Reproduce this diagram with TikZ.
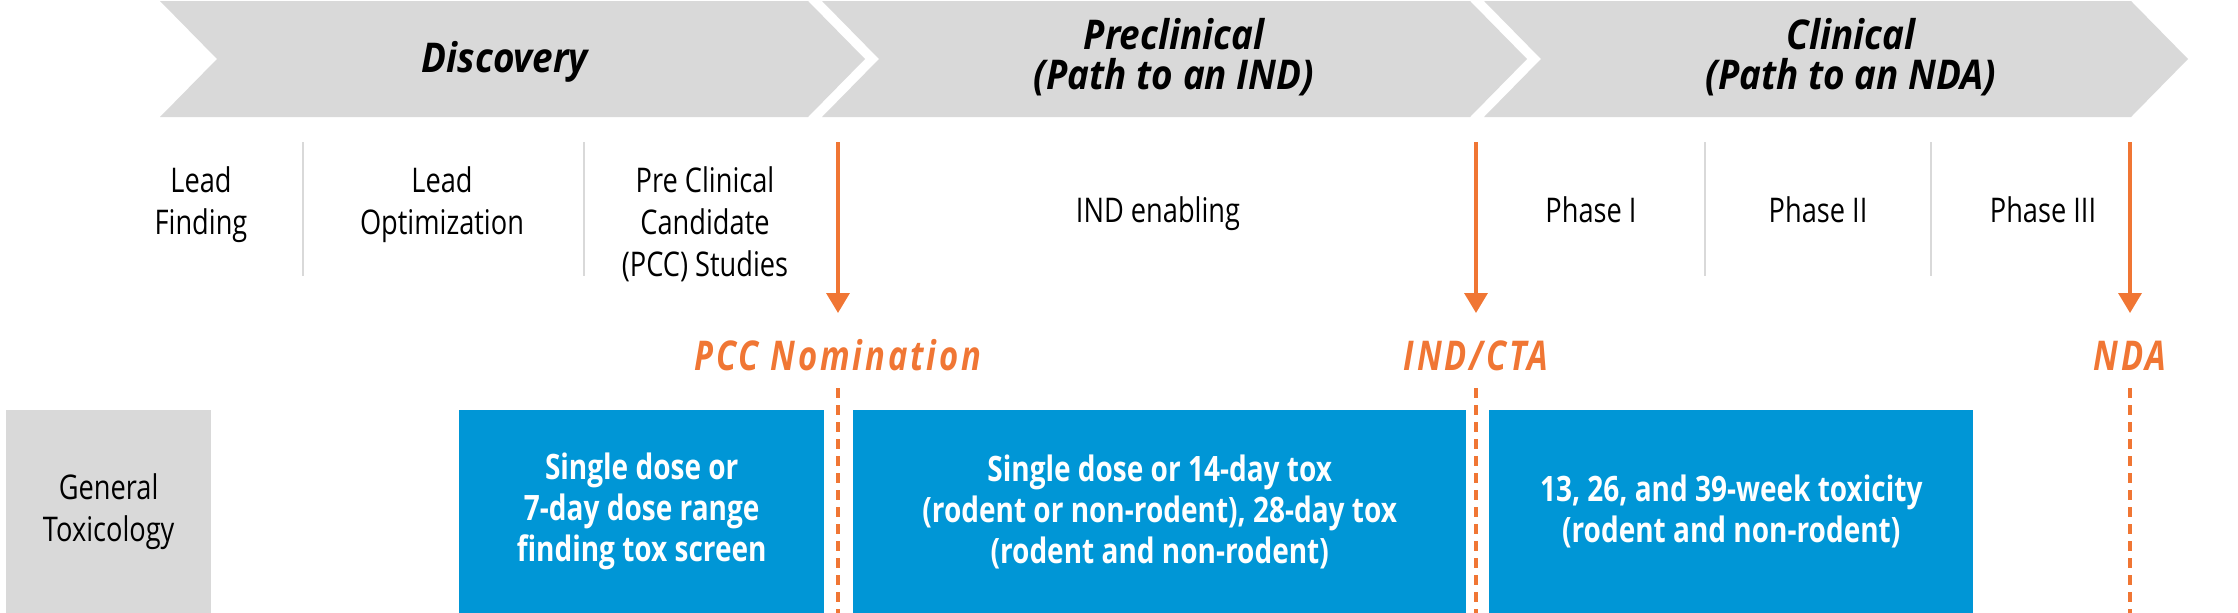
\documentclass[tikz,border=0pt]{standalone}
\usepackage{fontspec}
\setmainfont{Open Sans}[FakeStretch=0.8]
\newfontfamily\titlefont{Open Sans}[FakeStretch=0.9]
\usetikzlibrary{arrows.meta}
\definecolor{chev}{RGB}{217,217,217}
\definecolor{tblue}{RGB}{0,150,214}
\definecolor{torange}{RGB}{240,118,52}
\definecolor{sepgray}{RGB}{217,217,217}
\begin{document}
\begin{tikzpicture}[x=1pt,y=-1pt,
  chevron/.style={fill=chev,draw=none},
  title/.style={font=\titlefont\fontsize{41}{40}\selectfont\bfseries\itshape, align=center, inner sep=0},
  stage/.style={font=\fontsize{34}{42}\selectfont, align=center, inner sep=0, anchor=north},
  stageone/.style={font=\fontsize{34}{42}\selectfont, inner sep=0, anchor=base},
  sepline/.style={draw=sepgray, line width=1.5},
  milearrow/.style={draw=torange, line width=3.5, -{Triangle[width=23,length=20]}},
  miledash/.style={draw=torange, line width=3.5, dash pattern=on 10 off 7},
  milelabel/.style={font=\fontsize{41}{44}\selectfont\bfseries\itshape\addfontfeatures{LetterSpace=7}, text=torange, inner sep=0, anchor=base},
  rowhead/.style={fill=chev, font=\fontsize{34}{42}\selectfont, align=center, inner sep=0, anchor=north west},
  toxbox/.style={fill=tblue, text=white, font=\fontsize{35}{41}\selectfont\bfseries, align=center, inner sep=0, anchor=north west},
]
\useasboundingbox (0,0) rectangle (2238,613);
% chevrons
\fill[chevron] (160,1) -- (808,1) -- (865,59) -- (808,117) -- (160,117) -- (217,59) -- cycle;
\fill[chevron] (822,1) -- (1470,1) -- (1527,59) -- (1470,117) -- (822,117) -- (879,59) -- cycle;
\fill[chevron] (1484,1) -- (2131,1) -- (2188,59) -- (2131,117) -- (1484,117) -- (1541,59) -- cycle;
\node[title] (tdisc) at (505,62) {Discovery};
\node[title] (tpre) at (1174,57) {Preclinical\\(Path to an IND)};
\node[title] (tclin) at (1851,57) {Clinical\\(Path to an NDA)};
% stage labels
\node[stage] (lf) at (201,166) {Lead\\Finding};
\node[stage] (lo) at (442,166) {Lead\\Optimization};
\node[stage] (pcc) at (705,166) {Pre Clinical\\Candidate\\(PCC) Studies};
\node[stageone] (ind) at (1158,222) {IND enabling};
\node[stageone] (p1) at (1591,222) {Phase I};
\node[stageone] (p2) at (1818,222) {Phase II};
\node[stageone] (p3) at (2043,222) {Phase III};
% separators
\coordinate (s1a) at (303,142); \coordinate (s1b) at (303,276);
\coordinate (s2a) at (584,142); \coordinate (s2b) at (584,276);
\coordinate (s3a) at (1705,142); \coordinate (s3b) at (1705,276);
\coordinate (s4a) at (1931,142); \coordinate (s4b) at (1931,276);
\draw[sepline] (s1a) -- (s1b);
\draw[sepline] (s2a) -- (s2b);
\draw[sepline] (s3a) -- (s3b);
\draw[sepline] (s4a) -- (s4b);
% milestones
\coordinate (m1top) at (838,142); \coordinate (m1tip) at (838,313);
\coordinate (m2top) at (1476,142); \coordinate (m2tip) at (1476,313);
\coordinate (m3top) at (2130,142); \coordinate (m3tip) at (2130,313);
\draw[milearrow] (m1top) -- (m1tip);
\draw[milearrow] (m2top) -- (m2tip);
\draw[milearrow] (m3top) -- (m3tip);
\node[milelabel] (l1) at (838,370) {PCC Nomination};
\node[milelabel] (l2) at (1476,370) {IND/CTA};
\node[milelabel] (l3) at (2130,370) {NDA};
\coordinate (d1a) at (838,388); \coordinate (d1b) at (838,613);
\coordinate (d2a) at (1476,388); \coordinate (d2b) at (1476,613);
\coordinate (d3a) at (2130,388); \coordinate (d3b) at (2130,613);
\draw[miledash] (d1a) -- (d1b);
\draw[miledash] (d2a) -- (d2b);
\draw[miledash] (d3a) -- (d3b);
% bottom row
\node[rowhead, minimum width=205, minimum height=203] (gt) at (6,410) {General\\Toxicology};
\node[toxbox, minimum width=365, minimum height=203] (b1) at (459,410) {Single dose or\\7-day dose range\\finding tox screen};
\node[toxbox, minimum width=613, minimum height=203] (b2) at (853,410) {Single dose or 14-day tox\\(rodent or non-rodent), 28-day tox\\(rodent and non-rodent)};
\node[toxbox, minimum width=484, minimum height=203] (b3) at (1489,410) {13, 26, and 39-week toxicity\\(rodent and non-rodent)};
\end{tikzpicture}
\end{document}
